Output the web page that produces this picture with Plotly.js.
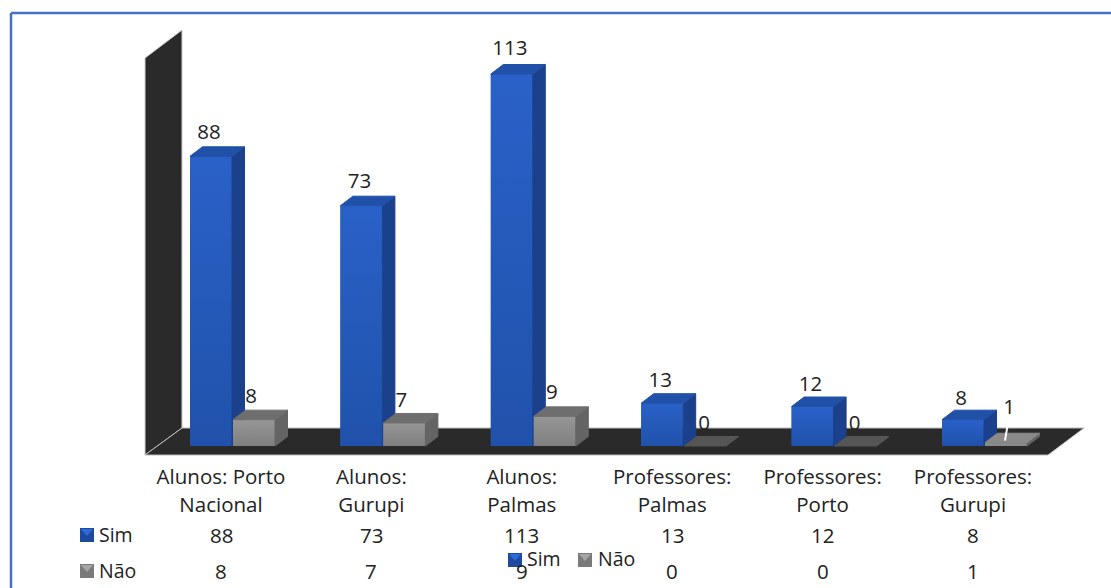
<!DOCTYPE html>
<html><head><meta charset="utf-8">
<script src="https://cdn.plot.ly/plotly-3.0.1.min.js"></script>
<style>html,body{margin:0;padding:0;background:#fff;overflow:hidden}#chart{width:1111px;height:588px}</style>
</head><body><div id="chart"></div>
<script>
const categories = ["Alunos: Porto<br>Nacional","Alunos:<br>Gurupi","Alunos:<br>Palmas","Professores:<br>Palmas","Professores:<br>Porto","Professores:<br>Gurupi"];
const sim = [88,73,113,13,12,8];
const nao = [8,7,9,0,0,1];
const seriesNames = ["Sim","Não"];
const idx = categories.map((_,i)=>i);

const W=1111,H=588, PXX=150.4, PXY=3.292, X0=221, Y0=446;
const ux=p=>p/PXX, uy=p=>p/PXY;
const xr=p=>(p-X0)/PXX, yr=p=>(Y0-p)/PXY;
const xRange=[xr(0),xr(W)], yRange=[yr(H),yr(0)];
const BW=ux(42), DX=ux(12.5), DY=uy(9.5);
const OFF_S=ux(-31), OFF_N=ux(12);
const FONT='"Open Sans", sans-serif', TXT='#222', FS=20.5;

const poly=(x,y,color,ya,extra)=>Object.assign({x,y,yaxis:ya,mode:'lines',fill:'toself',fillcolor:color,line:{color:color,width:1},hoverinfo:'skip',showlegend:false,cliponaxis:false},extra||{});
function box(v,i,off,ya,c){
  const l=i+off,r=l+BW,out=[];
  if(v>1) out.push(poly([l,r,r,l,l],[0,0,v,v,0],c.front,ya,{line:{width:0},fillgradient:{type:'vertical',colorscale:[[0,c.low],[1,c.high]]}}));
  if(v>0) out.push(poly([r,r+DX,r+DX,r,r],[0,DY,v+DY,v,0],c.side,ya));
  out.push(poly([l,r,r+DX,l+DX,l],[v,v,v+DY,v+DY,v],c.top(v),ya));
  return out;
}
const blue={front:'#2358bd',side:'#1b418c',top:()=>'#2050a8',low:'#2052ab',high:'#2a61c8'};
const grey={front:'#8c8c8c',side:'#646464',top:v=>v===0?'#555555':v===1?'#8a8a8a':'#6e6e6e',low:'#7f7f7f',high:'#969696'};

const wallX=[xr(145),xr(182),xr(182),xr(145),xr(145)], wallY=[yr(58),yr(30),yr(428),yr(455),yr(58)];
const floorX=[xr(145),xr(1048),xr(1084),xr(182),xr(145)], floorY=[yr(455),yr(455),yr(428),yr(428),yr(455)];

const liftS=[6.9,6.9,7.2,6.4,6.3,6.0];
const liftN=[6.6,6.4,6.9,6.4,6.4,10.2];
const nudgeN=[30,30,30,32,32,36];
const traces=[
  poly(wallX,wallY,'#2a2a2a','y',{line:{color:'#cfcfcf',width:1}}),
  poly(floorX,floorY,'#2a2a2a','y',{line:{color:'#bdbdbd',width:1}}),
  {type:'bar',name:seriesNames[0],x:idx,y:sim,yaxis:'y2',width:BW,offset:OFF_S,marker:{color:blue.front,line:{width:0}},hoverinfo:'x+y'},
  ...sim.flatMap((v,i)=>box(v,i,OFF_S,'y2',blue)),
  {x:idx.map(i=>i-ux(12)),y:sim.map((v,i)=>v+liftS[i]),yaxis:'y2',mode:'text',text:sim.map(String),textposition:'middle center',textfont:{family:FONT,size:FS,color:TXT},showlegend:false,hoverinfo:'skip',cliponaxis:false},
  {type:'bar',name:seriesNames[1],x:idx,y:nao,yaxis:'y3',width:BW,offset:OFF_N,marker:{color:nao.map(grey.top).map((c,i)=>nao[i]>1?grey.front:c),line:{width:0}},hoverinfo:'x+y'},
  ...nao.flatMap((v,i)=>box(v,i,OFF_N,'y3',grey)),
  {x:idx.map(i=>i+ux(nudgeN[i])),y:nao.map((v,i)=>v+liftN[i]),yaxis:'y3',mode:'text',text:nao.map(String),textposition:'middle center',textfont:{family:FONT,size:FS,color:TXT},showlegend:false,hoverinfo:'skip',cliponaxis:false},
  {x:[5+ux(36),5+ux(32)],y:[1+uy(26),1+uy(2)],yaxis:'y3',mode:'lines',line:{color:'#ffffff',width:2},showlegend:false,hoverinfo:'skip'}
];

const rowY=[534.5,570.5];
const pY=p=>1-p/H;
const label=(x,y,t,size)=>({x:x/W,xref:'paper',y:pY(y),yref:'paper',text:t,showarrow:false,xanchor:'left',yanchor:'middle',font:{family:FONT,size:size||19.5,color:TXT}});
const ann=[];
[sim,nao].forEach((vals,r)=>{
  vals.forEach((v,i)=>ann.push({x:i,xref:'x',y:pY(rowY[r]),yref:'paper',text:String(v),showarrow:false,xanchor:'center',yanchor:'middle',font:{family:FONT,size:FS,color:TXT}}));
  ann.push(label(97,rowY[r],seriesNames[r]));
});
ann.push(label(525,558.5,seriesNames[0]),label(596,558.5,seriesNames[1]));
const swatch=(x,y,dark,light)=>[
  {type:'rect',xref:'paper',yref:'paper',x0:x/W,x1:(x+14)/W,y0:pY(y+7),y1:pY(y-7),fillcolor:dark,line:{width:0},layer:'above'},
  {type:'path',xref:'paper',yref:'paper',path:`M ${(x+1)/W} ${pY(y-6)} L ${(x+13)/W} ${pY(y-6)} L ${(x+7)/W} ${pY(y+1)} Z`,fillcolor:light,line:{width:0},layer:'above'}
];
const frame=[
 {type:'line',xref:'paper',yref:'paper',x0:11/W,x1:1,y0:pY(13),y1:pY(13),line:{color:'#4472c4',width:2.5}},
 {type:'line',xref:'paper',yref:'paper',x0:11/W,x1:11/W,y0:pY(13),y1:0,line:{color:'#4472c4',width:2.5}}
];
const layout={
  width:W,height:H,margin:{l:0,r:0,t:0,b:0},paper_bgcolor:'#fff',plot_bgcolor:'rgba(0,0,0,0)',
  barmode:'overlay',showlegend:false,
  xaxis:{range:xRange,anchor:'free',position:1-Y0/H,tickmode:'array',tickvals:idx,
    ticktext:categories.map(c=>c.split('<br>').map(s=>'<span style="font-size:20.5px">'+s+'</span>').join('<br>')),
    ticks:'outside',ticklen:11,tickcolor:'rgba(0,0,0,0)',tickfont:{family:FONT,size:21.5,color:TXT},showgrid:false,zeroline:false,showline:false,fixedrange:true,tickangle:0},
  yaxis:{range:yRange,visible:false,fixedrange:true},
  yaxis2:{range:yRange,visible:false,overlaying:'y',fixedrange:true},
  yaxis3:{range:yRange,visible:false,overlaying:'y',fixedrange:true},
  annotations:ann,
  shapes:[...frame,
    ...swatch(80,535,'#1d4a9f','#2f6ad6'),...swatch(80,571,'#7a7a7a','#a5a5a5'),
    ...swatch(508,560,'#1d4a9f','#2f6ad6'),...swatch(578,560,'#7a7a7a','#a5a5a5')]
};
Plotly.newPlot('chart',traces,layout,{displayModeBar:false,responsive:false});
</script></body></html>
